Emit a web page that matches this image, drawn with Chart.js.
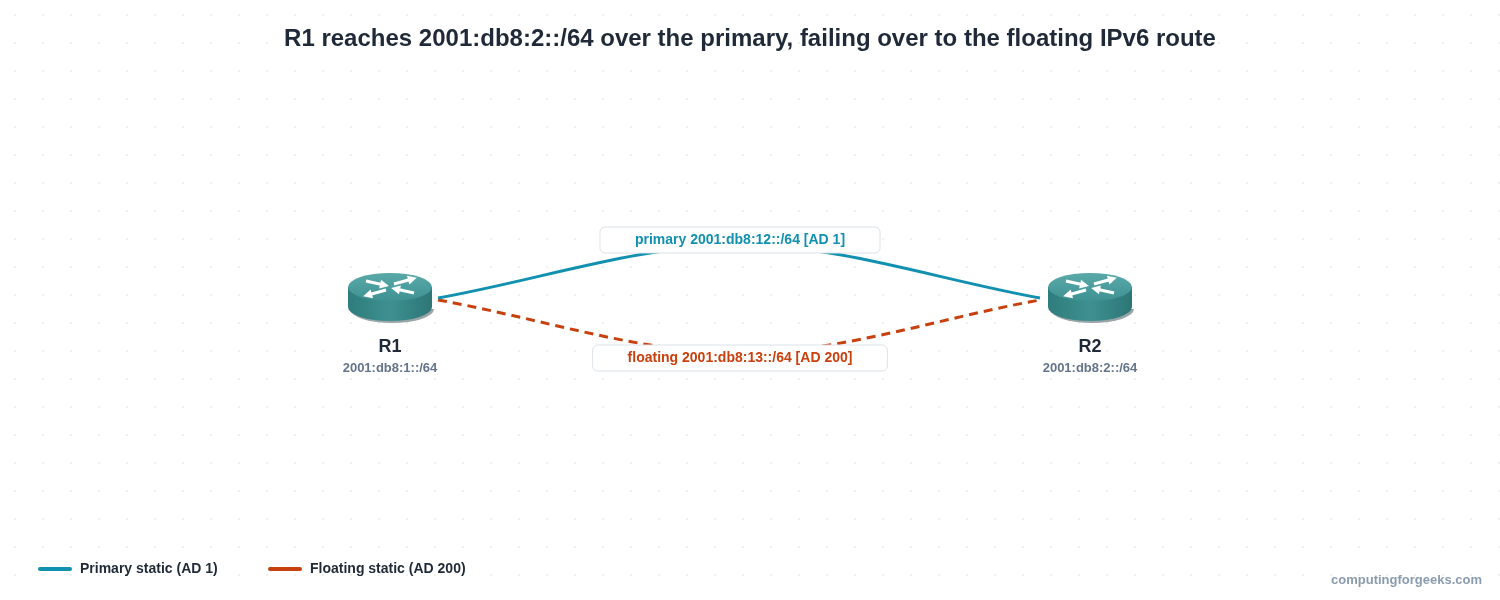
<!DOCTYPE html>
<html>
<head>
<meta charset="utf-8">
<script src="https://cdn.jsdelivr.net/npm/chart.js@4"></script>
<style>
html, body { margin: 0; padding: 0; background: #fff; }
#wrap { width: 1500px; height: 600px; }
</style>
</head>
<body>
<div id="wrap"><canvas id="c"></canvas></div>
<script>
const titleText = "R1 reaches 2001:db8:2::/64 over the primary, failing over to the floating IPv6 route";
const nodeNames = ["R1", "R2"];
const nodePrefixes = ["2001:db8:1::/64", "2001:db8:2::/64"];
const nodeX = [390, 1090];
const nodeY = [297, 297];
const primaryPath = [{x: 438, y: 298}, {x: 740, y: 245}, {x: 1040, y: 298}];
const floatingPath = [{x: 438, y: 300}, {x: 740, y: 353}, {x: 1040, y: 300}];
const primaryLabel = "primary 2001:db8:12::/64 [AD 1]";
const floatingLabel = "floating 2001:db8:13::/64 [AD 200]";
const legendLabels = ["Primary static (AD 1)", "Floating static (AD 200)"];
const watermark = "computingforgeeks.com";

const BLUE = "#1190b0";
const ORANGE = "#c8400e";
const FONT = "Liberation Sans, Arial, sans-serif";

function drawRouter(ctx, cx, cy) {
    const rx = 42, ry = 14, h = 20, top = cy - 10;
    ctx.save();
    // shadow base
    ctx.fillStyle = "#9aa5a8";
    ctx.beginPath();
    ctx.ellipse(cx + 2, top + h + 2, rx, ry, 0, 0, Math.PI);
    ctx.fill();
    // body
    const g = ctx.createLinearGradient(cx - rx, 0, cx + rx, 0);
    g.addColorStop(0, "#2f7c7c");
    g.addColorStop(0.5, "#3e9090");
    g.addColorStop(1, "#2d7676");
    ctx.fillStyle = g;
    ctx.beginPath();
    ctx.moveTo(cx - rx, top);
    ctx.lineTo(cx - rx, top + h);
    ctx.ellipse(cx, top + h, rx, ry, 0, Math.PI, 0, true);
    ctx.lineTo(cx + rx, top);
    ctx.closePath();
    ctx.fill();
    // top
    const gt = ctx.createLinearGradient(0, top - ry, 0, top + ry);
    gt.addColorStop(0, "#5aa9a9");
    gt.addColorStop(1, "#3f9292");
    ctx.fillStyle = gt;
    ctx.beginPath();
    ctx.ellipse(cx, top, rx, ry, 0, 0, Math.PI * 2);
    ctx.fill();
    // arrows
    ctx.strokeStyle = "#fff";
    ctx.fillStyle = "#fff";
    ctx.lineWidth = 3;
    const arr = (x1, y1, x2, y2) => {
        ctx.beginPath(); ctx.moveTo(x1, y1); ctx.lineTo(x2, y2); ctx.stroke();
        const a = Math.atan2(y2 - y1, x2 - x1);
        ctx.beginPath();
        ctx.moveTo(x2 + Math.cos(a) * 5, y2 + Math.sin(a) * 5);
        ctx.lineTo(x2 + Math.cos(a + 2.3) * 6, y2 + Math.sin(a + 2.3) * 6);
        ctx.lineTo(x2 + Math.cos(a - 2.3) * 6, y2 + Math.sin(a - 2.3) * 6);
        ctx.closePath(); ctx.fill();
    };
    arr(cx - 24, top - 6, cx - 6, top - 2);
    arr(cx + 24, top + 6, cx + 6, top + 2);
    arr(cx - 4, top + 3, cx - 22, top + 8);
    arr(cx + 4, top - 3, cx + 22, top - 8);
    ctx.restore();
}

function labelBox(ctx, text, cx, cy, color) {
    ctx.save();
    ctx.font = "bold 14px " + FONT;
    const w = ctx.measureText(text).width + 70, h = 26;
    ctx.fillStyle = "#fff";
    ctx.strokeStyle = "#dde3e8";
    ctx.lineWidth = 1;
    ctx.beginPath();
    ctx.roundRect(cx - w / 2, cy - h / 2, w, h, 5);
    ctx.fill(); ctx.stroke();
    ctx.fillStyle = color;
    ctx.textAlign = "center";
    ctx.textBaseline = "middle";
    ctx.fillText(text, cx, cy);
    ctx.restore();
}

const bgPlugin = {
    id: "bg",
    beforeDraw(chart) {
        const ctx = chart.ctx;
        ctx.save();
        ctx.fillStyle = "#fff";
        ctx.fillRect(0, 0, chart.width, chart.height);
        ctx.fillStyle = "#eef0f2";
        for (let x = 14; x < chart.width; x += 28)
            for (let y = 14; y < chart.height; y += 28)
                ctx.fillRect(x, y, 2, 2);
        ctx.restore();
    },
    afterDraw(chart) {
        const ctx = chart.ctx, xs = chart.scales.x, ys = chart.scales.y;
        for (let i = 0; i < nodeNames.length; i++) {
            const px = xs.getPixelForValue(nodeX[i]), py = ys.getPixelForValue(nodeY[i]);
            drawRouter(ctx, px, py);
            ctx.save();
            ctx.textAlign = "center";
            ctx.textBaseline = "middle";
            ctx.fillStyle = "#1f2937";
            ctx.font = "bold 18px " + FONT;
            ctx.fillText(nodeNames[i], px, py + 50);
            ctx.fillStyle = "#64748b";
            ctx.font = "bold 13px " + FONT;
            ctx.fillText(nodePrefixes[i], px, py + 71);
            ctx.restore();
        }
        labelBox(ctx, primaryLabel, xs.getPixelForValue(primaryPath[1].x), ys.getPixelForValue(240), BLUE);
        labelBox(ctx, floatingLabel, xs.getPixelForValue(floatingPath[1].x), ys.getPixelForValue(358), ORANGE);

        ctx.save();
        ctx.fillStyle = "#1f2937";
        ctx.font = "bold 24px " + FONT;
        ctx.textAlign = "center";
        ctx.textBaseline = "middle";
        ctx.fillText(titleText, 750, 39);
        // legend
        ctx.font = "bold 14px " + FONT;
        ctx.textAlign = "left";
        ctx.lineWidth = 4;
        ctx.lineCap = "round";
        const lx = [40, 270], cols = [BLUE, ORANGE];
        for (let i = 0; i < 2; i++) {
            ctx.strokeStyle = cols[i];
            ctx.beginPath(); ctx.moveTo(lx[i], 569); ctx.lineTo(lx[i] + 30, 569); ctx.stroke();
            ctx.fillStyle = "#1f2937";
            ctx.fillText(legendLabels[i], lx[i] + 40, 569);
        }
        ctx.fillStyle = "#8a9bb0";
        ctx.font = "bold 13px " + FONT;
        ctx.textAlign = "right";
        ctx.fillText(watermark, 1482, 580);
        ctx.restore();
    }
};

new Chart(document.getElementById("c"), {
    type: "scatter",
    data: {
        datasets: [
            { data: primaryPath, showLine: true, borderColor: BLUE, borderWidth: 3, tension: 0.4,
              cubicInterpolationMode: "monotone", pointRadius: 0 },
            { data: floatingPath, showLine: true, borderColor: ORANGE, borderWidth: 3, borderDash: [9, 6],
              cubicInterpolationMode: "monotone", pointRadius: 0 }
        ]
    },
    options: {
        responsive: true,
        maintainAspectRatio: false,
        animation: false,
        layout: { padding: 0 },
        plugins: { legend: { display: false }, tooltip: { enabled: false }, title: { display: false } },
        scales: {
            x: { type: "linear", min: 0, max: 1500, display: false },
            y: { type: "linear", min: 0, max: 600, reverse: true, display: false }
        }
    },
    plugins: [bgPlugin]
});
</script>
</body>
</html>
